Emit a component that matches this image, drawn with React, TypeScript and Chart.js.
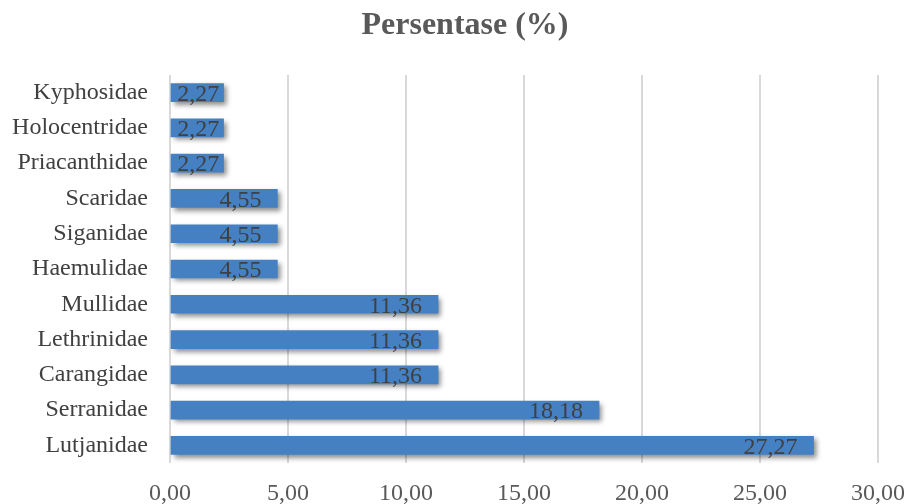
import React, { useEffect, useRef } from "react";
import { Chart, registerables } from "chart.js";

Chart.register(...registerables);

const categories = [
  "Kyphosidae",
  "Holocentridae",
  "Priacanthidae",
  "Scaridae",
  "Siganidae",
  "Haemulidae",
  "Mullidae",
  "Lethrinidae",
  "Carangidae",
  "Serranidae",
  "Lutjanidae",
];
const values = [2.27, 2.27, 2.27, 4.55, 4.55, 4.55, 11.36, 11.36, 11.36, 18.18, 27.27];
const xTicks = [0, 5, 10, 15, 20, 25, 30];
const titleText = "Persentase (%)";

const fmt = (v: number) => v.toFixed(2).replace(".", ",");
const FONT = "'Liberation Serif', 'Times New Roman', serif";

export default function App() {
  const ref = useRef<HTMLCanvasElement | null>(null);
  useEffect(() => {
    const canvas = ref.current!;
    const shadowPlugin = {
      id: "shadow",
      beforeDatasetsDraw(chart: any) {
        const ctx = chart.ctx;
        ctx.save();
        ctx.shadowColor = "rgba(0,0,0,0.45)";
        ctx.shadowBlur = 5;
        ctx.shadowOffsetX = 3;
        ctx.shadowOffsetY = 3;
      },
      afterDatasetsDraw(chart: any) {
        chart.ctx.restore();
        const ctx = chart.ctx;
        const meta = chart.getDatasetMeta(0);
        ctx.save();
        ctx.font = `24px ${FONT}`;
        ctx.fillStyle = "#404040";
        ctx.textBaseline = "middle";
        meta.data.forEach((el: any, i: number) => {
          const txt = fmt(values[i]);
          const w = ctx.measureText(txt).width;
          const barW = el.x - el.base;
          if (w + 20 > barW) {
            ctx.textAlign = "center";
            ctx.fillText(txt, (el.x + el.base) / 2 + 1, el.y + 2);
          } else {
            ctx.textAlign = "right";
            ctx.fillText(txt, el.x - 16, el.y + 2);
          }
        });
        ctx.restore();
      },
    };
    const titlePlugin = {
      id: "customTitle",
      afterDraw(chart: any) {
        const ctx = chart.ctx;
        ctx.save();
        ctx.font = `bold 32px ${FONT}`;
        ctx.fillStyle = "#595959";
        ctx.textAlign = "center";
        ctx.textBaseline = "middle";
        ctx.fillText(titleText, 465, 26);
        ctx.restore();
      },
    };
    const chart = new Chart(canvas, {
      type: "bar",
      data: {
        labels: categories,
        datasets: [
          {
            data: values,
            backgroundColor: (c: any) => {
              const ch = c.chart;
              const el = ch.getDatasetMeta(0).data[c.dataIndex];
              if (!el || !Number.isFinite(el.y)) return "#4580C2";
              const g = ch.ctx.createLinearGradient(0, el.y - 9, 0, el.y + 9);
              g.addColorStop(0, "#5590CF");
              g.addColorStop(1, "#3A71B1");
              return g;
            },
            barThickness: 18,
          },
        ],
      },
      options: {
        indexAxis: "y",
        animation: false,
        responsive: false,
        maintainAspectRatio: false,
        layout: { padding: { top: 75, right: 30, left: 0, bottom: 0 } },
        plugins: {
          legend: { display: false },
          title: { display: false },
          tooltip: { enabled: false },
        },
        scales: {
          x: {
            min: 0,
            max: 30,
            afterBuildTicks: (s: any) => {
              s.ticks = xTicks.map((v) => ({ value: v }));
            },
            afterFit: (s: any) => {
              s.height = 41;
              s.paddingLeft = 0;
              s.paddingRight = 0;
            },
            grid: { color: "#d9d9d9", lineWidth: 2, drawTicks: false },
            border: { display: false },
            ticks: {
              padding: 16,
              color: "#595959",
              font: { family: FONT, size: 24 },
              callback: (v: any) => fmt(Number(v)),
              maxRotation: 0,
            },
          },
          y: {
            afterFit: (s: any) => {
              s.width = 170;
              s.paddingTop = 0;
              s.paddingBottom = 0;
            },
            grid: { display: false },
            border: { display: false },
            ticks: {
              padding: 14,
              color: "#404040",
              font: { family: FONT, size: 24 },
            },
          },
        },
      },
      plugins: [shadowPlugin, titlePlugin],
    } as any);
    return () => chart.destroy();
  }, []);
  return (
    <div style={{ position: "fixed", left: 0, top: 0, width: 908, height: 504, background: "#fff" }}>
      <canvas ref={ref} width={908} height={504} style={{ width: 908, height: 504 }} />
    </div>
  );
}
